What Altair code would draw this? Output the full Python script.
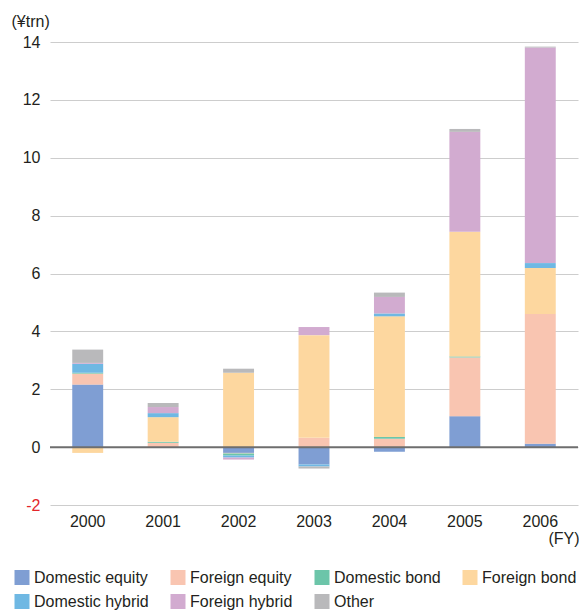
import altair as alt
import pandas as pd

years = ["2000", "2001", "2002", "2003", "2004", "2005", "2006"]
categories = ["Domestic equity", "Foreign equity", "Domestic bond", "Foreign bond",
              "Domestic hybrid", "Foreign hybrid", "Other"]
colors = ["#7f9ed3", "#f9c5b1", "#6cc5a9", "#fdd79f", "#6fb8e3", "#d2abd0", "#b9b9bb"]

domestic_equity = [2.16, 0.0, -0.20, -0.60, -0.16, 1.07, 0.12]
foreign_equity = [0.38, 0.15, -0.02, 0.32, 0.29, 2.03, 4.48]
domestic_bond = [0.03, 0.035, -0.07, 0.0, 0.06, 0.035, 0.0]
foreign_bond = [-0.20, 0.85, 2.57, 3.55, 4.17, 4.31, 1.59]
domestic_hybrid = [0.31, 0.14, -0.07, -0.07, 0.10, 0.0, 0.17]
foreign_hybrid = [0.03, 0.21, -0.07, 0.28, 0.57, 3.45, 7.45]
other = [0.46, 0.14, 0.14, -0.07, 0.15, 0.10, 0.03]

series = [domestic_equity, foreign_equity, domestic_bond, foreign_bond,
          domestic_hybrid, foreign_hybrid, other]

rows = []
for ci, (cat, vals) in enumerate(zip(categories, series)):
    for y, v in zip(years, vals):
        rows.append({"year": y, "category": cat, "order": ci, "value": v})
df = pd.DataFrame(rows)

y_ticks = [-2, 0, 2, 4, 6, 8, 10, 12, 14]
FS = 16
TXT = "#231f20"

bars = alt.Chart(df).mark_bar(strokeWidth=0).encode(
    x=alt.X("year:N", sort=years,
            scale=alt.Scale(paddingInner=0.59, paddingOuter=0.295),
            axis=alt.Axis(title="(FY)", labelAngle=0, ticks=False, domain=False,
                          labelPadding=8, labelFontSize=FS, labelColor=TXT,
                          titleFontSize=FS, titleFontWeight="normal", titleColor=TXT,
                          titleAnchor="end", titleAlign="right", titleX=529, titleY=33,
                          titleBaseline="middle")),
    y=alt.Y("value:Q", stack="zero",
            scale=alt.Scale(domain=[-2, 14], nice=False, zero=False),
            axis=alt.Axis(values=y_ticks, title="(¥trn)", ticks=False, domain=False,
                          grid=True, gridColor="#cdcdcd", gridWidth=1,
                          labelPadding=10, labelFontSize=FS,
                          labelExpr="'' + datum.value",
                          labelColor={"condition": {"test": "datum.value < 0", "value": "#e3262b"},
                                      "value": TXT},
                          titleAngle=0, titleAlign="left", titleBaseline="middle",
                          titleX=-39, titleY=-21, titleFontSize=FS,
                          titleFontWeight="normal", titleColor=TXT)),
    color=alt.Color("category:N",
                    scale=alt.Scale(domain=categories, range=colors),
                    legend=alt.Legend(title=None, orient="none", legendX=-36, legendY=527.5,
                                      direction="horizontal",
                                      columns=4, symbolType="square", symbolSize=225,
                                      symbolStrokeWidth=0, labelFontSize=FS,
                                      labelColor=TXT, labelOffset=4,
                                      rowPadding=8, columnPadding=21, padding=0)),
    order=alt.Order("order:Q", sort="ascending"),
)

zero = alt.Chart(pd.DataFrame({"z": [0]})).mark_rule(color="#6e6e6e", strokeWidth=2).encode(
    y="z:Q"
)

chart = alt.layer(bars, zero).properties(
    width=528, height=463,
    autosize=alt.AutoSizeParams(type="none"),
    padding={"left": 50, "top": 42, "right": 1, "bottom": 105},
).configure(font="Liberation Sans").configure_view(stroke=None)

chart.save("out.html", embed_options={"renderer": "svg", "actions": False})
